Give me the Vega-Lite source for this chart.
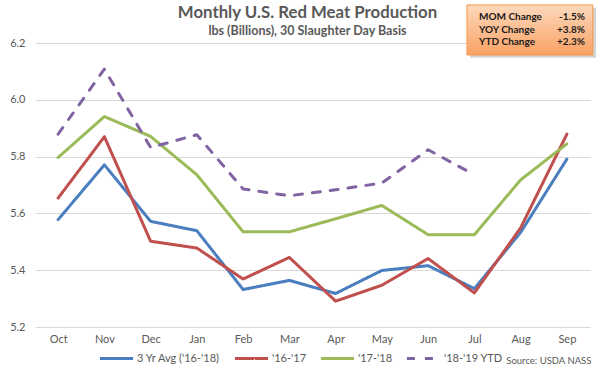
{
  "$schema": "https://vega.github.io/schema/vega-lite/v6.json",
  "width": 555,
  "height": 284,
  "autosize": {"type": "none"},
  "padding": {"left": 35, "top": 43, "right": 10, "bottom": 42},
  "background": "white",
  "title": {
    "text": "Monthly U.S. Red Meat Production",
    "subtitle": "lbs (Billions), 30 Slaughter Day Basis",
    "anchor": "middle",
    "frame": "group",
    "dx": -5,
    "offset": -33,
    "font": "Lato",
    "fontSize": 16.8,
    "fontWeight": "bold",
    "color": "#595959",
    "subtitleFont": "Lato",
    "subtitleFontSize": 12.5,
    "subtitleFontWeight": "bold",
    "subtitleColor": "#595959",
    "subtitlePadding": 3
  },
  "config": {"view": {"stroke": null}, "font": "Lato"},
  "resolve": {"scale": {"x": "independent", "y": "independent"}},
  "layer": [
    {
      "data": {"values": [
        {"Month": "Oct", "Series": "3 Yr Avg ('16-'18)", "Value": 5.578},
        {"Month": "Nov", "Series": "3 Yr Avg ('16-'18)", "Value": 5.771},
        {"Month": "Dec", "Series": "3 Yr Avg ('16-'18)", "Value": 5.572},
        {"Month": "Jan", "Series": "3 Yr Avg ('16-'18)", "Value": 5.539},
        {"Month": "Feb", "Series": "3 Yr Avg ('16-'18)", "Value": 5.332},
        {"Month": "Mar", "Series": "3 Yr Avg ('16-'18)", "Value": 5.364},
        {"Month": "Apr", "Series": "3 Yr Avg ('16-'18)", "Value": 5.318},
        {"Month": "May", "Series": "3 Yr Avg ('16-'18)", "Value": 5.399},
        {"Month": "Jun", "Series": "3 Yr Avg ('16-'18)", "Value": 5.416},
        {"Month": "Jul", "Series": "3 Yr Avg ('16-'18)", "Value": 5.335},
        {"Month": "Aug", "Series": "3 Yr Avg ('16-'18)", "Value": 5.533},
        {"Month": "Sep", "Series": "3 Yr Avg ('16-'18)", "Value": 5.791},
        {"Month": "Oct", "Series": "'16-'17", "Value": 5.654},
        {"Month": "Nov", "Series": "'16-'17", "Value": 5.870},
        {"Month": "Dec", "Series": "'16-'17", "Value": 5.502},
        {"Month": "Jan", "Series": "'16-'17", "Value": 5.478},
        {"Month": "Feb", "Series": "'16-'17", "Value": 5.369},
        {"Month": "Mar", "Series": "'16-'17", "Value": 5.445},
        {"Month": "Apr", "Series": "'16-'17", "Value": 5.291},
        {"Month": "May", "Series": "'16-'17", "Value": 5.347},
        {"Month": "Jun", "Series": "'16-'17", "Value": 5.441},
        {"Month": "Jul", "Series": "'16-'17", "Value": 5.320},
        {"Month": "Aug", "Series": "'16-'17", "Value": 5.549},
        {"Month": "Sep", "Series": "'16-'17", "Value": 5.879},
        {"Month": "Oct", "Series": "'17-'18", "Value": 5.797},
        {"Month": "Nov", "Series": "'17-'18", "Value": 5.941},
        {"Month": "Dec", "Series": "'17-'18", "Value": 5.871},
        {"Month": "Jan", "Series": "'17-'18", "Value": 5.736},
        {"Month": "Feb", "Series": "'17-'18", "Value": 5.535},
        {"Month": "Mar", "Series": "'17-'18", "Value": 5.535},
        {"Month": "Apr", "Series": "'17-'18", "Value": 5.581},
        {"Month": "May", "Series": "'17-'18", "Value": 5.628},
        {"Month": "Jun", "Series": "'17-'18", "Value": 5.525},
        {"Month": "Jul", "Series": "'17-'18", "Value": 5.525},
        {"Month": "Aug", "Series": "'17-'18", "Value": 5.718},
        {"Month": "Sep", "Series": "'17-'18", "Value": 5.845},
        {"Month": "Oct", "Series": "'18-'19 YTD", "Value": 5.879},
        {"Month": "Nov", "Series": "'18-'19 YTD", "Value": 6.108},
        {"Month": "Dec", "Series": "'18-'19 YTD", "Value": 5.832},
        {"Month": "Jan", "Series": "'18-'19 YTD", "Value": 5.877},
        {"Month": "Feb", "Series": "'18-'19 YTD", "Value": 5.686},
        {"Month": "Mar", "Series": "'18-'19 YTD", "Value": 5.662},
        {"Month": "Apr", "Series": "'18-'19 YTD", "Value": 5.683},
        {"Month": "May", "Series": "'18-'19 YTD", "Value": 5.707},
        {"Month": "Jun", "Series": "'18-'19 YTD", "Value": 5.824},
        {"Month": "Jul", "Series": "'18-'19 YTD", "Value": 5.736}
      ]},
      "mark": {"type": "line", "strokeCap": "round", "strokeJoin": "round"},
      "encoding": {
        "x": {
          "field": "Month", "type": "nominal",
          "sort": ["Oct", "Nov", "Dec", "Jan", "Feb", "Mar", "Apr", "May", "Jun", "Jul", "Aug", "Sep"],
          "scale": {"type": "point", "padding": 0.5},
          "axis": {"title": null, "domain": false, "ticks": false, "grid": false, "labelAngle": 0, "labelFont": "Lato", "labelFontSize": 11, "labelColor": "#595959", "labelPadding": 6}
        },
        "y": {
          "field": "Value", "type": "quantitative",
          "scale": {"domain": [5.2, 6.2], "zero": false, "nice": false},
          "axis": {"title": null, "values": [5.2, 5.4, 5.6, 5.8, 6.0, 6.2], "format": ".1f", "domain": false, "ticks": false, "gridColor": "#d9d9d9", "gridWidth": 1, "labelFont": "Lato", "labelColor": "#595959", "labelFontSize": 11, "labelPadding": 10}
        },
        "color": {
          "field": "Series", "type": "nominal",
          "scale": {"domain": ["3 Yr Avg ('16-'18)", "'16-'17", "'17-'18", "'18-'19 YTD"], "range": ["#4A7EBF", "#C0504D", "#9BBB59", "#8064A2"]},
          "legend": {"title": null, "orient": "none", "legendX": 63, "legendY": 297, "direction": "horizontal", "gridAlign": "none", "symbolType": "stroke", "symbolSize": 1100, "labelFont": "Lato", "labelFontSize": 11, "labelColor": "#595959", "columnPadding": 7, "labelOffset": 2}
        },
        "strokeDash": {
          "field": "Series", "type": "nominal",
          "scale": {"domain": ["3 Yr Avg ('16-'18)", "'16-'17", "'17-'18", "'18-'19 YTD"], "range": [[1, 0], [1, 0], [1, 0], [8, 10]]},
          "legend": {"title": null, "orient": "none", "legendX": 63, "legendY": 297, "direction": "horizontal", "gridAlign": "none", "symbolType": "stroke", "symbolSize": 1100, "labelFont": "Lato", "labelFontSize": 11, "labelColor": "#595959", "columnPadding": 7, "labelOffset": 2}
        },
        "strokeWidth": {
          "field": "Series", "type": "nominal",
          "scale": {"domain": ["3 Yr Avg ('16-'18)", "'16-'17", "'17-'18", "'18-'19 YTD"], "range": [3, 3, 3, 4.5]},
          "legend": {"title": null, "orient": "none", "legendX": 63, "legendY": 297, "direction": "horizontal", "gridAlign": "none", "symbolType": "stroke", "symbolSize": 1100, "labelFont": "Lato", "labelFontSize": 11, "labelColor": "#595959", "columnPadding": 7, "labelOffset": 2}
        }
      }
    },
    {
      "data": {"values": [{"label": "box"}]},
      "mark": {"type": "rect", "fill": "#7f7f7f", "opacity": 0.35, "clip": false},
      "encoding": {
        "x": {"datum": 9.41, "type": "quantitative", "scale": {"domain": [0, 12], "nice": false, "zero": false}, "axis": null},
        "x2": {"datum": 12.13},
        "y": {"datum": 6.324, "type": "quantitative", "scale": {"domain": [5.2, 6.2], "nice": false, "zero": false}, "axis": null},
        "y2": {"datum": 6.148}
      }
    },
    {
      "data": {"values": [{"label": "box"}]},
      "mark": {
        "type": "rect", "clip": false, "stroke": "#F79646", "strokeWidth": 1,
        "fill": {"gradient": "linear", "x1": 0, "y1": 0, "x2": 0, "y2": 1, "stops": [{"offset": 0, "color": "#FDD9BC"}, {"offset": 1, "color": "#F9A265"}]}
      },
      "encoding": {
        "x": {"datum": 9.34, "type": "quantitative", "scale": {"domain": [0, 12], "nice": false, "zero": false}, "axis": null},
        "x2": {"datum": 12.06},
        "y": {"datum": 6.334, "type": "quantitative", "scale": {"domain": [5.2, 6.2], "nice": false, "zero": false}, "axis": null},
        "y2": {"datum": 6.158}
      }
    },
    {
      "data": {"values": [
        {"label": "MOM Change", "change": "-1.5%", "pos": 6.291},
        {"label": "YOY Change", "change": "+3.8%", "pos": 6.246},
        {"label": "YTD Change", "change": "+2.3%", "pos": 6.202}
      ]},
      "mark": {"type": "text", "align": "left", "baseline": "middle", "font": "Lato", "fontSize": 10, "fontWeight": "bold", "color": "#1a1a1a", "clip": false},
      "encoding": {
        "x": {"datum": 9.6, "type": "quantitative", "scale": {"domain": [0, 12], "nice": false, "zero": false}, "axis": null},
        "y": {"field": "pos", "type": "quantitative", "scale": {"domain": [5.2, 6.2], "nice": false, "zero": false}, "axis": null},
        "text": {"field": "label"}
      }
    },
    {
      "data": {"values": [
        {"label": "MOM Change", "change": "-1.5%", "pos": 6.291},
        {"label": "YOY Change", "change": "+3.8%", "pos": 6.246},
        {"label": "YTD Change", "change": "+2.3%", "pos": 6.202}
      ]},
      "mark": {"type": "text", "align": "right", "baseline": "middle", "font": "Lato", "fontSize": 10, "fontWeight": "bold", "color": "#1a1a1a", "clip": false},
      "encoding": {
        "x": {"datum": 11.89, "type": "quantitative", "scale": {"domain": [0, 12], "nice": false, "zero": false}, "axis": null},
        "y": {"field": "pos", "type": "quantitative", "scale": {"domain": [5.2, 6.2], "nice": false, "zero": false}, "axis": null},
        "text": {"field": "change"}
      }
    },
    {
      "data": {"values": [{"source": "Source: USDA NASS"}]},
      "mark": {"type": "text", "align": "right", "baseline": "middle", "font": "Lato", "fontSize": 9.5, "color": "#595959", "clip": false},
      "encoding": {
        "x": {"datum": 12.03, "type": "quantitative", "scale": {"domain": [0, 12], "nice": false, "zero": false}, "axis": null},
        "y": {"datum": 5.082, "type": "quantitative", "scale": {"domain": [5.2, 6.2], "nice": false, "zero": false}, "axis": null},
        "text": {"field": "source"}
      }
    }
  ]
}
